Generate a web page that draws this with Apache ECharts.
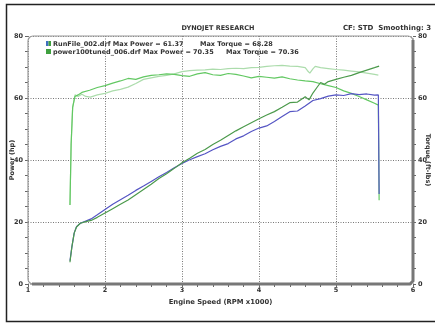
<!DOCTYPE html>
<html>
<head>
<meta charset="utf-8">
<script src="https://cdn.jsdelivr.net/npm/echarts@6/dist/echarts.min.js"></script>
<style>
  html, body { margin: 0; padding: 0; background: #fff; }
  #chart { width: 435px; height: 325px; }
</style>
</head>
<body>
<div id="chart"></div>
<script>
// Dyno run data (rpm x1000 -> hp / ft-lbs)
const runPowerRpm = [1.545, 1.57, 1.6, 1.63, 1.68, 1.75, 1.82, 1.9, 2.0, 2.1, 2.2, 2.3, 2.4, 2.5, 2.6, 2.7, 2.8, 2.9, 3.0, 3.1, 3.2, 3.3, 3.4, 3.5, 3.6, 3.7, 3.8, 3.9, 4.0, 4.1, 4.2, 4.3, 4.4, 4.5, 4.6, 4.7, 4.8, 4.9, 5.0, 5.1, 5.2, 5.3, 5.4, 5.5, 5.55, 5.56];
const runPower = [7.5, 12, 16.5, 18.5, 19.6, 20.3, 21.0, 22.3, 24.0, 25.7, 27.2, 28.6, 30.2, 31.6, 33.1, 34.6, 36.0, 37.5, 38.9, 40.1, 41.1, 42.0, 43.3, 44.4, 45.3, 46.8, 47.8, 49.2, 50.3, 51.0, 52.4, 54.0, 55.6, 55.8, 57.4, 59.2, 59.8, 60.6, 61.0, 60.8, 61.4, 61.1, 61.3, 60.9, 61.0, 29];

const tunedPowerRpm = [1.545, 1.57, 1.6, 1.63, 1.68, 1.75, 1.82, 1.9, 2.0, 2.1, 2.2, 2.3, 2.4, 2.5, 2.6, 2.7, 2.8, 2.9, 3.0, 3.1, 3.2, 3.3, 3.4, 3.5, 3.6, 3.7, 3.8, 3.9, 4.0, 4.1, 4.2, 4.3, 4.4, 4.5, 4.6, 4.65, 4.7, 4.75, 4.8, 4.85, 4.9, 5.0, 5.1, 5.2, 5.3, 5.4, 5.5, 5.56];
const tunedPower = [7.0, 12, 16.4, 18.4, 19.6, 20.1, 20.5, 21.5, 22.9, 24.3, 25.7, 27.1, 28.8, 30.5, 32.2, 34.0, 35.6, 37.3, 39.1, 40.6, 42.2, 43.4, 45.0, 46.4, 47.9, 49.4, 50.7, 52.0, 53.3, 54.5, 55.6, 57.0, 58.5, 58.7, 60.4, 59.4, 61.6, 63.3, 65.0, 64.4, 65.3, 66.0, 66.7, 67.3, 68.2, 69.0, 69.8, 70.3];

const runTorqueRpm = [1.545, 1.56, 1.58, 1.61, 1.65, 1.7, 1.8, 1.9, 2.0, 2.1, 2.2, 2.3, 2.4, 2.5, 2.6, 2.7, 2.8, 2.9, 3.0, 3.1, 3.2, 3.3, 3.4, 3.5, 3.6, 3.7, 3.8, 3.9, 4.0, 4.1, 4.2, 4.3, 4.4, 4.5, 4.6, 4.7, 4.8, 4.9, 5.0, 5.1, 5.2, 5.3, 5.4, 5.5, 5.55, 5.56];
const runTorque = [25.5, 45, 57, 60.5, 61.0, 61.8, 62.5, 63.4, 64.0, 64.8, 65.5, 66.3, 66.0, 66.8, 67.3, 67.5, 67.8, 67.6, 67.2, 67.0, 67.8, 68.2, 67.5, 67.3, 67.9, 67.6, 67.1, 66.5, 67.0, 66.7, 66.4, 66.8, 66.2, 65.8, 65.5, 65.3, 64.6, 64.0, 63.4, 62.3, 61.5, 60.5, 59.4, 58.3, 57.7, 27];

const tunedTorqueRpm = [1.545, 1.56, 1.58, 1.61, 1.65, 1.7, 1.75, 1.81, 1.9, 2.0, 2.1, 2.2, 2.3, 2.4, 2.5, 2.6, 2.7, 2.8, 2.9, 3.0, 3.1, 3.2, 3.3, 3.4, 3.5, 3.6, 3.7, 3.8, 3.9, 4.0, 4.1, 4.2, 4.3, 4.4, 4.5, 4.6, 4.63, 4.66, 4.7, 4.73, 4.8, 4.9, 5.0, 5.1, 5.2, 5.3, 5.4, 5.5, 5.55];
const tunedTorque = [25.5, 45, 57, 61.0, 60.5, 61.2, 60.5, 60.3, 61.0, 61.5, 62.3, 62.8, 63.5, 64.7, 66.0, 66.5, 67.0, 67.3, 67.8, 68.5, 68.8, 69.0, 69.1, 69.3, 69.2, 69.5, 69.6, 69.5, 69.8, 69.9, 70.2, 70.4, 70.5, 70.3, 70.2, 69.8, 68.8, 68.0, 69.4, 70.2, 69.8, 69.5, 69.2, 69.0, 68.7, 68.4, 68.0, 67.6, 67.4];

const xTicks = [1, 2, 3, 4, 5, 6];
const yTicks = [0, 20, 40, 60, 80];
const legendPower = ["RunFile_002.drf Max Power = 61.37", "power100tuned_006.drf Max Power = 70.35"];
const legendTorque = ["Max Torque = 68.28", "Max Torque = 70.36"];

const FONT = "DejaVu Sans";
const pairs = (xs, ys) => xs.map((x, i) => [x, ys[i]]);
const G = { left: 28, right: 22, top: 36, bottom: 41 };
const txt = { fontFamily: FONT, fontSize: 6.5, fontWeight: "bold", fill: "#333" };

function yAxisCfg(pos) {
  return {
    type: "value",
    position: pos,
    min: yTicks[0],
    max: yTicks[yTicks.length - 1],
    interval: 20,
    axisLine: { show: false },
    axisTick: { show: true, length: 3, lineStyle: { color: "#666" } },
    minorTick: { show: true, splitNumber: 4, length: 3, lineStyle: { color: "#666" } },
    axisLabel: { fontFamily: FONT, fontSize: 6.5, fontWeight: "bold", color: "#333", margin: 5 },
    splitLine: { show: pos === "left", lineStyle: { color: "#777", type: [1, 1.5], width: 1 } }
  };
}

function legendRow(i, y, torqueX) {
  return [
    { type: "text", silent: true, x: 53, y: y,
      style: Object.assign({ text: legendPower[i], verticalAlign: "middle" }, txt) },
    { type: "text", silent: true, x: torqueX, y: y,
      style: Object.assign({ text: legendTorque[i], verticalAlign: "middle" }, txt) }
  ];
}

const chart = echarts.init(document.getElementById("chart"), null, { renderer: "canvas" });
chart.setOption({
  backgroundColor: "#fff",
  animation: false,
  grid: Object.assign({ containLabel: false, outerBoundsMode: "none" }, G),
  xAxis: {
    type: "value",
    min: xTicks[0],
    max: xTicks[xTicks.length - 1],
    interval: 1,
    name: "Engine Speed (RPM x1000)",
    nameLocation: "middle",
    nameGap: 12,
    nameTextStyle: { fontFamily: FONT, fontSize: 6.8, fontWeight: "bold", color: "#333" },
    axisLine: { show: false },
    axisTick: { show: true, length: 3, lineStyle: { color: "#666" } },
    minorTick: { show: true, splitNumber: 5, length: 3, lineStyle: { color: "#666" } },
    axisLabel: { fontFamily: FONT, fontSize: 6.5, fontWeight: "bold", color: "#333", margin: 3 },
    splitLine: { show: true, lineStyle: { color: "#777", type: [1, 1.5], width: 1 } }
  },
  yAxis: [yAxisCfg("left"), yAxisCfg("right")],
  series: [
    {
      name: "tunedTorque", type: "line", yAxisIndex: 1, showSymbol: false,
      data: pairs(tunedTorqueRpm, tunedTorque),
      lineStyle: { color: "#acdcac", width: 1.2 }
    },
    {
      name: "runTorque", type: "line", yAxisIndex: 1, showSymbol: false,
      data: pairs(runTorqueRpm, runTorque),
      lineStyle: { color: "#62c862", width: 1.2 }
    },
    {
      name: "runPower", type: "line", yAxisIndex: 0, showSymbol: false,
      data: pairs(runPowerRpm, runPower),
      lineStyle: { color: "#5555c4", width: 1.2 }
    },
    {
      name: "tunedPower", type: "line", yAxisIndex: 0, showSymbol: false,
      data: pairs(tunedPowerRpm, tunedPower),
      lineStyle: { color: "#4c9a4c", width: 1.2 }
    }
  ],
  graphic: [
    // outer border of the printout
    { type: "rect", silent: true, shape: { x: 6.5, y: 4.5, width: 430, height: 317 },
      style: { fill: null, stroke: "#222", lineWidth: 1.5 } },
    // plot frame
    { type: "rect", silent: true, z: 50,
      shape: { x: G.left, y: G.top, width: 435 - G.left - G.right, height: 325 - G.top - G.bottom, r: 5 },
      style: { fill: null, stroke: "#999", lineWidth: 1.2 } },
    { type: "polyline", silent: true, z: 51,
      shape: { points: [[G.left + 4, 325 - G.bottom], [435 - G.right - 3, 325 - G.bottom], [435 - G.right, 325 - G.bottom - 3], [435 - G.right, G.top + 4]] },
      style: { fill: null, stroke: "#777", lineWidth: 3 } },
    { type: "text", silent: true, x: 218, y: 28,
      style: Object.assign({ text: "DYNOJET RESEARCH", align: "center", verticalAlign: "middle" }, txt) },
    { type: "text", silent: true, x: 431, y: 28,
      style: Object.assign({ text: "CF: STD  Smoothing: 3", align: "right", verticalAlign: "middle" }, txt, { fontSize: 7 }) },
    // axis names
    { type: "text", silent: true, x: 12, y: 160, rotation: Math.PI / 2,
      style: Object.assign({ text: "Power (hp)", align: "center", verticalAlign: "middle" }, txt) },
    { type: "text", silent: true, x: 428, y: 160, rotation: -Math.PI / 2,
      style: Object.assign({ text: "Torque (ft-lbs)", align: "center", verticalAlign: "middle" }, txt) },
    // legend
    { type: "rect", silent: true, shape: { x: 46, y: 41, width: 2.5, height: 5 }, style: { fill: "#3f6fc0" } },
    { type: "rect", silent: true, shape: { x: 48.5, y: 41, width: 2.5, height: 5 }, style: { fill: "#3fa03f" } },
    { type: "rect", silent: true, shape: { x: 46, y: 49, width: 5, height: 5 }, style: { fill: "#3fa03f" } }
  ].concat(legendRow(0, 44, 200), legendRow(1, 52, 226))
});
</script>
</body>
</html>
